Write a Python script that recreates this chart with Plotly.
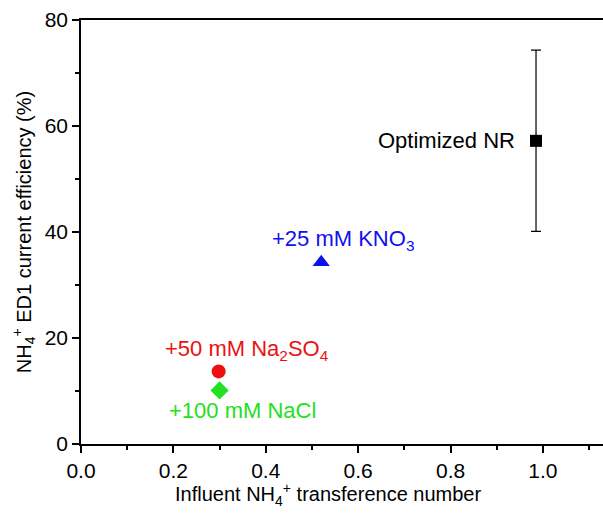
import plotly.graph_objects as go

# Data
labels = ["Optimized NR", "+25 mM KNO<sub>3</sub>", "+50 mM Na<sub>2</sub>SO<sub>4</sub>", "+100 mM NaCl"]
x_vals = [0.985, 0.52, 0.298, 0.300]
y_vals = [57.2, 34.3, 13.7, 10.1]
y_err = [17.1, 0, 0, 0]
symbols = ["square", "triangle-up", "circle", "diamond"]
colors = ["#000000", "#1010ee", "#ee1010", "#22e022"]
sizes = [12, 15, 14, 14]

x_ticks = [0.0, 0.2, 0.4, 0.6, 0.8, 1.0]
x_ticktext = ["0.0", "0.2", "0.4", "0.6", "0.8", "1.0"]
y_ticks = [0, 20, 40, 60, 80]

x_title = "Influent NH<sub>4</sub><sup>+</sup> transference number"
y_title = "NH<sub>4</sub><sup>+</sup> ED1 current efficiency (%)"

fig = go.Figure()
for i in range(len(labels)):
    fig.add_trace(go.Scatter(
        x=[x_vals[i]], y=[y_vals[i]], mode="markers",
        marker=dict(symbol=symbols[i], color=colors[i], size=sizes[i]),
        error_y=dict(type="data", array=[y_err[i]], visible=y_err[i] > 0,
                     color="black", thickness=1.2, width=5),
        showlegend=False,
    ))

font_family = "Liberation Sans, Arial, sans-serif"
# point labels (offsets in pixels)
label_pos = [
    dict(xanchor="right", xshift=-19, yshift=0),
    dict(xanchor="center", xshift=22, yshift=22),
    dict(xanchor="center", xshift=28, yshift=21),
    dict(xanchor="center", xshift=23, yshift=-20),
]
ann = []
for i in range(len(labels)):
    ann.append(dict(x=x_vals[i], y=y_vals[i], text=labels[i], xref="x", yref="y",
                    showarrow=False, yanchor="middle",
                    font=dict(size=22, family=font_family, color=colors[i]),
                    **label_pos[i]))
fig.update_layout(annotations=ann)

fig.add_annotation(
    x=0.473, y=-0.12, xref="paper", yref="paper", showarrow=False,
    text=x_title,
    xanchor="center", yanchor="middle", font=dict(size=20, family=font_family, color="black"))

axis_common = dict(
    showgrid=False, zeroline=False, showline=True, linecolor="black", linewidth=1.5,
    ticks="outside", ticklen=7, tickwidth=1.5, tickcolor="black",
    tickfont=dict(size=21, family=font_family, color="black"),
)
fig.update_xaxes(range=[0, 1.13], tickvals=x_ticks, ticktext=x_ticktext, mirror=True,
                 minor=dict(dtick=0.1, tick0=0, ticks="outside", ticklen=4, tickwidth=1.5, tickcolor="black"),
                 **axis_common)
fig.update_yaxes(range=[0, 80], tickvals=y_ticks,
                 title=dict(text=y_title, standoff=8, font=dict(size=20, family=font_family, color="black")),
                 minor=dict(dtick=10, tick0=0, ticks="outside", ticklen=4, tickwidth=1.5, tickcolor="black"),
                 **axis_common)

fig.update_layout(
    width=603, height=522,
    margin=dict(l=81, r=0, t=20, b=78),
    plot_bgcolor="white", paper_bgcolor="white",
    font=dict(family=font_family),
)

fig.write_html("out.html")
